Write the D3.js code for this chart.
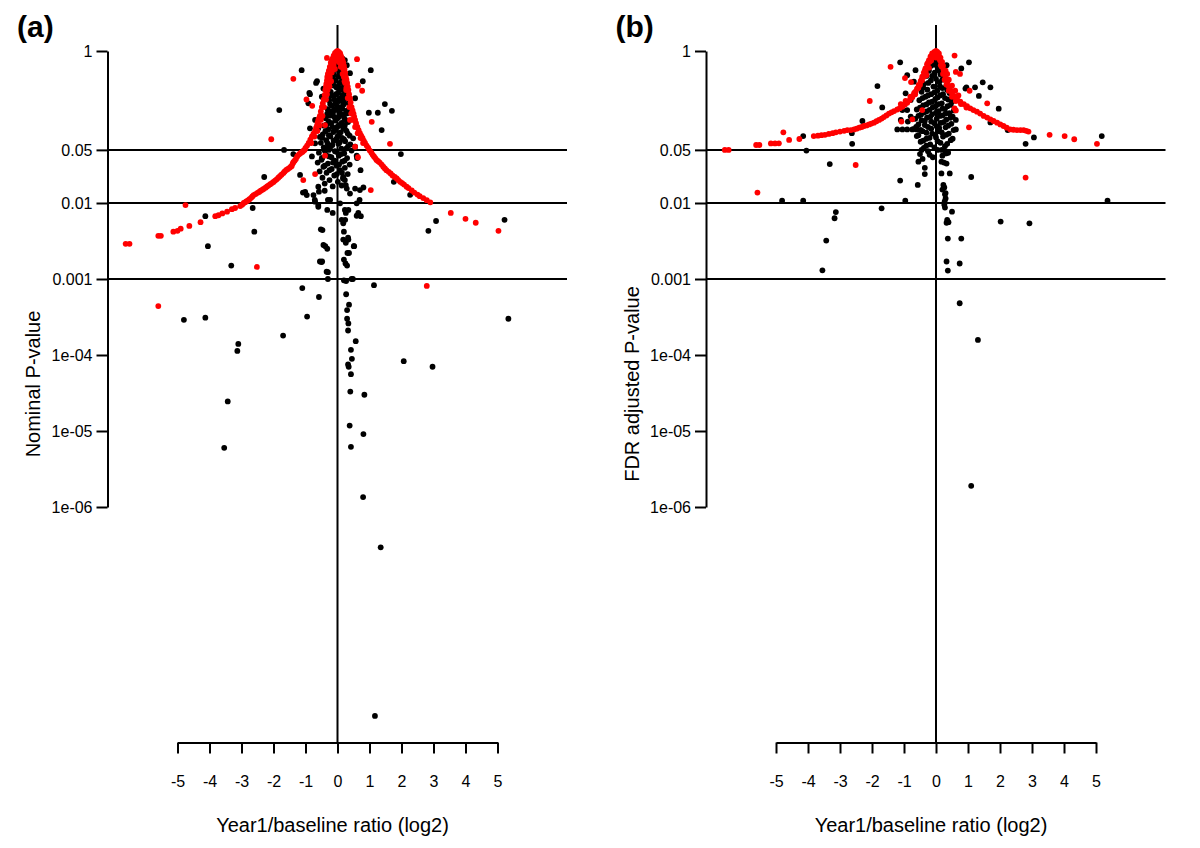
<!DOCTYPE html>
<html><head><meta charset="utf-8">
<script src="https://cdn.jsdelivr.net/npm/d3@7"></script>
<style>
body{margin:0;background:#fff}
svg{display:block}
text{font-family:"Liberation Sans",Arial,Helvetica,sans-serif;fill:#000}
</style>
</head><body>
<svg id="chart" width="1200" height="848"></svg>
<script>
// ---------- data ----------
const xTicks = [-5,-4,-3,-2,-1,0,1,2,3,4,5];
const yTicks = [1,0.05,0.01,0.001,1e-4,1e-5,1e-6];
const yTickLabels = ["1","0.05","0.01","0.001","1e-04","1e-05","1e-06"];
const refLines = [0.05,0.01,0.001];
const panelLabels = ["(a)","(b)"];
const yTitles = ["Nominal P-value","FDR adjusted P-value"];
const xTitle = "Year1/baseline ratio (log2)";

// panel (a): [log2 ratio, nominal P]
const nominalBlack = [
 [-1.12,0.56],[1.04,0.56],[0.79,0.40],[-0.64,0.40],[-0.86,0.27],[-1.82,0.167],[1.48,0.20],[0.98,0.154],[1.26,0.154],[1.70,0.163],
 [1.38,0.091],[1.98,0.044],[-1.67,0.05],[-2.29,0.022],[1.76,0.019],[2.27,0.0128],[-2.65,0.0086],[-4.13,0.0067],[-2.6,0.0042],[-4.05,0.0027],
 [-3.32,0.0015],[3.08,0.0058],[2.84,0.0043],[5.22,0.006],[1.14,0.00083],[-1.1,0.00076],[-0.58,0.00058],
 [-0.5,0.00167],[-0.3,0.00123],[-0.3,0.001],[-0.95,0.00032],[-4.8,0.00029],[-4.13,0.00031],[-1.7,0.00018],[-3.1,0.00014],[-3.13,0.000113],
 [-3.43,2.45e-5],[-3.54,6.0e-6],[5.34,0.0003],[2.07,8.3e-5],[2.97,7.0e-5],
 [0.36,0.0022],[0.2,0.0018],[0.25,0.0016],[0.3,0.0015],[0.48,0.001],[0.27,0.00094],[0.27,0.00063],[0.36,0.00046],[0.3,0.00039],[0.3,0.0003],
 [0.34,0.00026],[0.33,0.00021],[0.57,0.000152],[0.42,0.000117],[0.45,8.9e-5],[0.33,7.5e-5],[0.35,7.0e-5],[0.42,5.6e-5],[0.4,3.3e-5],[0.84,3.0e-5],
 [0.38,1.18e-5],[0.81,9.1e-6],[0.42,6.2e-6],[0.8,1.35e-6],[1.35,2.95e-7],[1.17,1.78e-9],
 [-1.17,0.0234],[-1.08,0.0137],[-0.96,0.0127],[-0.75,0.0127],[-0.7,0.0104],[-0.6,0.0089],[-0.32,0.0081],[-0.15,0.0074],[-0.23,0.011],[-0.58,0.0141],
 [-0.52,0.0045],[-0.44,0.0028],[-0.32,0.0025],[-0.55,0.0017],[-0.34,0.00125],
 [0.18,0.022],[0.23,0.02],[0.13,0.017],[0.29,0.0155],[0.55,0.0155],[0.7,0.0148],[0.39,0.0133],[0.6,0.0099],[0.08,0.0099],[0.23,0.0081],
 [0.34,0.0081],[0.65,0.0074],[0.6,0.0068],[0.13,0.006],[0.18,0.0054],[0.2,0.0042],[0.18,0.0033],[0.34,0.0033],[0.26,0.003],[0.52,0.0027],
 [0.31,0.0022],[0.2,0.00096],[0.44,0.001],
 [-0.67,0.38],[-0.88,0.28],[-0.91,0.205],[-1.38,0.044],[0.49,0.071],[0.55,0.055],[0.6,0.042],[-0.7,0.124],[-0.6,0.096],[-0.86,0.096],
 [-0.55,0.074],[-0.7,0.061],[-0.8,0.041],[-0.49,0.039],[-0.29,0.055],[0.23,0.106],[0.29,0.151],[0.35,0.205],[0.27,0.277],[0.55,0.239],
 [0.39,0.51],[0.29,0.65],[0.23,0.76],[-0.44,0.32],[-0.49,0.25],[0.11,0.69],[0.15,0.8],
 [0.72,0.027],[0.61,0.039],[0.81,0.016],[0.69,0.011],[0.73,0.0067],[-1.01,0.014],[-0.6,0.0164],[-0.4,0.0145],[-0.71,0.011],[-0.3,0.011],
 [-0.6,0.0094],[-0.47,0.0044],[-0.38,0.0027],[-0.48,0.0017],[0.26,0.0074],[0.24,0.006],[0.33,0.0035],[0.51,0.0027],
 // dense core
 [0.03,0.72],[-0.06,0.66],[0.09,0.61],[-0.02,0.57],[0.12,0.52],[-0.11,0.49],[0.04,0.46],[0.17,0.43],[-0.08,0.41],[0.07,0.38],
 [-0.17,0.36],[0.2,0.345],[-0.03,0.33],[0.11,0.31],[-0.21,0.29],[0.02,0.28],[0.16,0.265],[-0.12,0.255],[0.25,0.24],[-0.26,0.225],
 [0.06,0.22],[-0.06,0.205],[0.19,0.198],[-0.18,0.19],[0.1,0.182],[-0.31,0.172],[0.0,0.168],[0.27,0.16],[-0.14,0.155],[0.14,0.147],
 [-0.24,0.141],[0.05,0.136],[-0.37,0.13],[0.22,0.127],[-0.07,0.121],[0.33,0.116],[-0.2,0.112],[0.1,0.108],[-0.42,0.104],[-0.01,0.1],
 [0.18,0.097],[-0.29,0.093],[0.28,0.089],[-0.13,0.086],[0.06,0.083],[-0.46,0.08],[0.38,0.077],[-0.22,0.075],[0.14,0.072],[-0.04,0.069],
 [-0.35,0.067],[0.24,0.065],[-0.52,0.062],[0.03,0.06],[-0.16,0.058],[0.33,0.056],[-0.43,0.054],[0.12,0.052],[-0.27,0.05],[0.44,0.049],
 [-0.08,0.048],[-0.58,0.046],[0.21,0.045],[-0.36,0.043],[0.04,0.042],[-0.19,0.04],[0.3,0.039],[-0.5,0.037],[-0.09,0.036],[0.15,0.035],
 [-0.62,0.034],[-0.3,0.033],[0.38,0.032],[-0.03,0.031],[-0.44,0.03],[0.23,0.029],[-0.18,0.028],[0.08,0.027],[-0.56,0.026],[-0.34,0.025],
 [0.32,0.024],[-0.1,0.023],[-0.47,0.0215],[0.17,0.021],[-0.25,0.02],[0.01,0.019],[-0.4,0.018],[0.26,0.0172],[-0.15,0.0165],
 [-0.01,0.62],[0.06,0.54],[-0.14,0.44],[0.13,0.4],[-0.1,0.35],[0.05,0.33],[0.24,0.3],[-0.05,0.27],[-0.2,0.26],[0.09,0.24],
 [-0.1,0.23],[0.2,0.215],[-0.23,0.2],[-0.02,0.19],[0.15,0.175],[-0.09,0.17],[0.31,0.165],[-0.2,0.16],[0.07,0.153],[-0.32,0.15],
 [0.2,0.14],[-0.1,0.136],[0.0,0.13],[0.28,0.122],[-0.27,0.118],[0.13,0.113],[-0.34,0.108],[0.04,0.104],[-0.16,0.1],[0.23,0.094],
 [-0.06,0.091],[-0.38,0.088],[0.1,0.085],[0.32,0.082],[-0.27,0.078],[0.0,0.075],[-0.48,0.072],[0.2,0.069],[-0.12,0.066],[0.07,0.063],
 [-0.31,0.061],[0.4,0.059],[-0.22,0.055],[0.27,0.052],[-0.4,0.049],[-0.02,0.047],[0.12,0.044],[-0.26,0.041],[-0.48,0.039],[0.22,0.036],
 [-0.14,0.034],[0.05,0.032],[-0.4,0.031],[-0.25,0.027],[0.14,0.025],[-0.02,0.024]
];
const nominalRed = [
 // left branch
 [-6.62,0.0029],[-6.5,0.0029],[-5.6,0.0037],[-5.52,0.0037],[-5.13,0.0042],[-5.0,0.0043],[-4.9,0.0046],[-4.63,0.0050],[-4.28,0.0056],[-3.82,0.0067],
 [-3.72,0.0069],[-3.6,0.0073],[-3.45,0.0077],[-3.3,0.0083],[-3.2,0.0086],[-3.04,0.0091],[-2.98,0.0095],[-2.93,0.0100],[-2.89,0.0102],[-2.85,0.0105],
 [-2.8,0.0108],[-2.75,0.0112],[-2.7,0.0117],[-2.66,0.0122],[-2.62,0.0127],[-2.56,0.0131],[-2.5,0.0136],[-2.45,0.014],[-2.4,0.0145],[-2.35,0.0149],
 [-2.31,0.0153],[-2.25,0.0159],[-2.2,0.0165],[-2.15,0.0171],[-2.1,0.0177],[-2.05,0.0183],[-2.0,0.0189],[-1.95,0.0197],[-1.9,0.0205],[-1.85,0.0215],
 [-1.8,0.0225],[-1.75,0.0236],[-1.69,0.0248],[-1.65,0.026],[-1.6,0.0272],[-1.55,0.028],[-1.5,0.029],[-1.46,0.030],[-1.43,0.0307],[-1.4,0.033],
 [-1.38,0.0345],[-1.34,0.036],[-1.3,0.038],[-1.26,0.041],[-1.22,0.043],[-1.18,0.0445],[-1.14,0.046],[-1.1,0.047],[-1.07,0.0483],[-1.03,0.05],
 [-1.0,0.053],[-0.95,0.057],[-0.9,0.0616],[-0.85,0.068],[-0.8,0.075],[-0.75,0.082],[-0.7,0.0886],[-0.67,0.097],[-0.64,0.105],[-0.62,0.114],
 [-0.6,0.124],[-0.57,0.132],[-0.55,0.14],[-0.52,0.16],[-0.49,0.183],[-0.46,0.205],[-0.43,0.23],[-0.4,0.265],[-0.38,0.307],[-0.36,0.34],
 [-0.35,0.37],[-0.33,0.41],[-0.32,0.455],[-0.3,0.5],[-0.27,0.55],[-0.24,0.62],[-0.21,0.70],[-0.18,0.75],[-0.15,0.8],[-0.12,0.87],
 [-0.08,0.94],[-0.04,0.97],[0,1],
 [-0.82,0.0616],[-0.72,0.075],[-0.63,0.0886],[-0.56,0.105],[-0.52,0.124],[-0.47,0.14],[-0.42,0.183],[-0.36,0.23],[-0.31,0.307],[-0.26,0.37],
 [-0.24,0.455],[-0.2,0.55],[-0.14,0.70],[-0.09,0.8],[-0.03,0.92],
 // right branch
 [0.04,0.97],[0.08,0.94],[0.1,0.88],[0.13,0.82],[0.16,0.76],[0.18,0.70],[0.2,0.64],[0.22,0.58],[0.24,0.52],[0.26,0.455],
 [0.28,0.42],[0.3,0.38],[0.32,0.34],[0.34,0.307],[0.36,0.27],[0.39,0.24],[0.41,0.21],[0.44,0.183],[0.47,0.165],[0.5,0.15],
 [0.52,0.137],[0.55,0.124],[0.58,0.112],[0.62,0.1],[0.66,0.091],[0.7,0.083],[0.74,0.077],[0.78,0.072],[0.82,0.066],[0.86,0.0616],
 [0.91,0.057],[0.96,0.053],[1.01,0.049],[1.06,0.046],[1.1,0.043],[1.14,0.041],[1.18,0.039],[1.22,0.0368],[1.27,0.0355],[1.32,0.034],
 [1.38,0.032],[1.43,0.030],[1.48,0.0285],[1.53,0.027],[1.6,0.0257],[1.66,0.0245],[1.72,0.023],[1.79,0.022],[1.85,0.021],[1.9,0.020],
 [1.96,0.019],[2.02,0.0183],[2.08,0.0175],[2.16,0.0164],[2.22,0.0157],[2.32,0.0146],[2.4,0.0137],[2.5,0.0129],[2.57,0.0123],[2.68,0.0116],
 [2.79,0.0109],[2.9,0.0102],
 [0.07,0.9],[0.11,0.8],[0.14,0.70],[0.18,0.58],[0.2,0.455],[0.24,0.38],[0.27,0.307],[0.32,0.24],[0.37,0.183],[0.43,0.15],
 [0.48,0.124],[0.55,0.1],[0.63,0.083],[0.72,0.0716],[0.8,0.0616],
 // dense top of the red cusp
 [-0.22,0.62],[-0.12,0.66],[-0.02,0.74],[0.07,0.7],[-0.18,0.52],[-0.08,0.58],[0.1,0.62],[-0.28,0.42],[-0.2,0.4],[0.16,0.5],
 [-0.25,0.34],[0.22,0.4],[-0.33,0.27],[0.28,0.33],[-0.05,0.82],[0.03,0.86],
 // outliers
 [-0.33,0.81],[0.61,0.78],[-1.38,0.43],[-0.97,0.23],[-0.79,0.19],[0.64,0.35],[0.77,0.30],[1.07,0.117],[1.64,0.060],[-2.07,0.069],
 [-0.39,0.042],[0.64,0.040],[-1.07,0.020],[-0.70,0.024],[1.04,0.0148],[-4.75,0.0094],[-2.52,0.00144],[2.79,0.00081],[3.54,0.0074],[4.0,0.0062],
 [4.32,0.0055],[5.03,0.0043],[-5.6,0.00044],[-0.39,0.106],[0.39,0.124],[0.55,0.055]
];

// panel (b): [log2 ratio, FDR adjusted P]
const fdrBlack = [
 [-1.12,0.71],[1.03,0.71],[0.79,0.59],[-0.64,0.56],[-1.83,0.346],[1.46,0.387],[0.95,0.333],[1.22,0.333],[1.7,0.333],[1.34,0.256],
 [-1.68,0.181],[1.96,0.174],[-2.3,0.12],[1.7,0.115],[2.24,0.091],[-4.15,0.076],[-2.63,0.083],[-2.62,0.06],[-4.05,0.049],[-3.32,0.0325],
 [2.8,0.06],[3.06,0.073],[5.18,0.076],[1.1,0.022],[-1.12,0.0197],[-0.57,0.0173],[-4.81,0.0107],[-4.15,0.0107],[-0.96,0.0107],[-1.7,0.0085],
 [-3.13,0.0076],[-3.17,0.0063],[5.36,0.0107],[2.02,0.0057],[2.92,0.0054],[-3.43,0.0032],[-3.55,0.0013],[0.5,0.0077],[0.35,0.006],[0.39,0.0056],
 [0.33,0.0055],[0.37,0.0034],[0.79,0.0034],[0.33,0.0017],[0.74,0.0016],[0.37,0.00129],[0.74,0.00048],[1.31,0.000158],[1.1,1.9e-6],
 [0.28,0.013],[0.3,0.0115],[0.27,0.0105],[0.26,0.0095],[0.28,0.0087],[0.23,0.0173],[0.26,0.016],[0.17,0.035],[0.25,0.034],[0.33,0.033],
 [0.33,0.045],[0.17,0.0245],[0.43,0.0245],[0.2,0.015],[0.3,0.0135],[-0.55,0.035],[-0.35,0.029],[-0.35,0.024],[-0.42,0.038],
 [-0.9,0.48],[-0.69,0.395],[-0.95,0.277],[-0.79,0.227],[-1.05,0.167],[-0.9,0.167],[-0.79,0.137],[-1.1,0.124],[-0.88,0.118],[-1.21,0.093],
 [-1.05,0.093],[-0.9,0.093],[-0.74,0.093],[-0.6,0.093],[-0.48,0.091],[0.33,0.65],[0.92,0.32],
 // dense core
 [0.02,0.78],[-0.08,0.72],[0.12,0.69],[-0.15,0.64],[0.05,0.61],[0.2,0.58],[-0.22,0.55],[-0.04,0.52],[0.14,0.49],[-0.3,0.47],
 [0.27,0.45],[0.0,0.43],[-0.16,0.41],[0.1,0.39],[-0.38,0.37],[0.33,0.355],[-0.08,0.34],[0.2,0.325],[-0.27,0.31],[0.04,0.3],
 [-0.45,0.29],[0.42,0.28],[-0.15,0.27],[0.13,0.26],[-0.33,0.25],[0.28,0.24],[-0.02,0.235],[-0.52,0.225],[0.5,0.215],[-0.22,0.21],
 [0.08,0.2],[-0.4,0.193],[0.36,0.188],[-0.1,0.182],[0.2,0.175],[-0.6,0.17],[0.56,0.165],[-0.3,0.16],[0.0,0.155],[0.3,0.15],
 [-0.47,0.145],[0.12,0.14],[-0.18,0.136],[0.45,0.132],[-0.65,0.128],[0.62,0.124],[-0.35,0.12],[0.24,0.116],[-0.05,0.112],[-0.55,0.108],
 [0.38,0.104],[-0.25,0.1],[0.1,0.097],[-0.7,0.094],[0.55,0.091],[-0.42,0.088],[0.18,0.085],[-0.12,0.082],[0.32,0.079],[-0.6,0.076],
 [0.0,0.073],[-0.3,0.07],[0.46,0.067],[-0.48,0.064],[0.14,0.062],[-0.18,0.059],[0.28,0.056],[-0.38,0.053],[0.05,0.05],[-0.25,0.048],
 [0.38,0.046],[-0.5,0.044],[0.2,0.042],[-0.1,0.04],
 [-0.01,0.66],[0.08,0.56],[-0.12,0.47],[0.2,0.42],[-0.24,0.38],[0.12,0.345],[-0.4,0.33],[0.35,0.31],[-0.05,0.285],[0.22,0.27],
 [-0.25,0.26],[0.05,0.245],[-0.42,0.24],[0.38,0.23],[-0.12,0.215],[0.18,0.205],[-0.3,0.198],[0.46,0.195],[0.0,0.19],[-0.5,0.18],
 [0.28,0.172],[-0.2,0.168],[0.08,0.162],[-0.38,0.155],[0.42,0.152],[-0.12,0.147],[0.2,0.142],[-0.55,0.14],[0.52,0.137],[-0.28,0.133],
 [0.02,0.128],[0.32,0.125],[-0.45,0.122],[-0.15,0.118],[0.14,0.113],[0.48,0.11],[-0.35,0.106],[0.02,0.102],[-0.62,0.1],[0.3,0.099],
 [-0.15,0.095],[0.62,0.093],[-0.48,0.091],[0.1,0.088],[-0.3,0.084],[0.4,0.082],[-0.02,0.079],[-0.55,0.078],[0.22,0.075],[-0.2,0.072],
 [0.52,0.07],[-0.4,0.066],[0.05,0.065],[0.35,0.06],[-0.3,0.057],[-0.05,0.054],[0.18,0.05],[-0.45,0.05],[0.3,0.045],[-0.2,0.043]
];
const fdrRed = [
 // left branch
 [-6.6,0.050],[-6.48,0.050],[-5.62,0.058],[-5.52,0.058],[-5.16,0.0608],[-5.03,0.0608],[-4.91,0.061],[-4.59,0.0675],[-4.27,0.0695],[-3.82,0.076],
 [-3.69,0.077],[-3.58,0.078],[-3.47,0.079],[-3.35,0.081],[-3.23,0.083],[-3.13,0.085],[-3.0,0.087],[-2.87,0.089],[-2.77,0.091],[-2.66,0.091],
 [-2.56,0.093],[-2.48,0.095],[-2.4,0.098],[-2.32,0.1],[-2.25,0.103],[-2.17,0.105],[-2.09,0.108],[-2.02,0.111],[-1.94,0.114],[-1.86,0.119],
 [-1.78,0.124],[-1.7,0.129],[-1.63,0.135],[-1.55,0.142],[-1.47,0.15],[-1.39,0.156],[-1.31,0.162],[-1.21,0.17],[-1.13,0.177],[-1.05,0.185],
 [-0.97,0.197],[-0.9,0.209],[-0.82,0.226],[-0.74,0.246],[-0.69,0.268],[-0.64,0.291],[-0.59,0.32],[-0.54,0.357],[-0.48,0.4],[-0.43,0.459],
 [-0.38,0.52],[-0.33,0.59],[-0.28,0.67],[-0.22,0.76],[-0.17,0.85],[-0.12,0.93],[-0.05,0.97],[0,1],
 [-1.1,0.2],[-0.95,0.22],[-0.8,0.25],[-0.68,0.28],[-0.58,0.32],[-0.5,0.36],[-0.44,0.41],[-0.38,0.46],[-0.32,0.53],[-0.26,0.62],
 [-0.2,0.72],[-0.13,0.82],[-0.07,0.9],
 // right branch
 [0.04,0.97],[0.09,0.93],[0.14,0.82],[0.19,0.72],[0.22,0.64],[0.24,0.56],[0.27,0.5],[0.3,0.437],[0.35,0.385],[0.4,0.34],
 [0.45,0.305],[0.5,0.277],[0.58,0.252],[0.66,0.231],[0.76,0.215],[0.87,0.2],[0.97,0.188],[1.07,0.176],[1.17,0.167],[1.28,0.159],
 [1.38,0.15],[1.49,0.14],[1.6,0.133],[1.7,0.126],[1.8,0.12],[1.91,0.114],[2.01,0.108],[2.11,0.103],[2.21,0.098],[2.32,0.093],
 [2.42,0.092],[2.53,0.091],[2.64,0.091],[2.74,0.091],[2.82,0.089],[2.89,0.087],
 [0.08,0.88],[0.13,0.75],[0.18,0.62],[0.22,0.5],[0.27,0.42],[0.33,0.36],[0.4,0.3],[0.5,0.25],[0.62,0.22],[0.78,0.2],[0.95,0.18],
 [3.55,0.079],[4.02,0.076],[4.32,0.069],[5.03,0.06],
 // dense top of the red cusp
 [-0.25,0.7],[-0.15,0.75],[0.0,0.82],[0.12,0.78],[-0.35,0.55],[-0.22,0.6],[0.15,0.65],[0.3,0.55],[-0.45,0.42],[0.4,0.42],
 [-0.55,0.33],[0.5,0.35],[-0.65,0.27],[0.6,0.3],[0.7,0.26],[-0.3,0.48],[0.35,0.5],
 // outliers
 [-4.77,0.085],[-1.42,0.62],[-2.07,0.22],[-0.97,0.44],[-0.78,0.39],[0.58,0.87],[0.62,0.53],[0.75,0.5],[1.05,0.30],[1.6,0.205],
 [1.03,0.099],[-0.74,0.126],[-1.08,0.118],[-0.43,0.167],[0.58,0.176],[0.62,0.165],[-2.51,0.0316],[-5.58,0.0137],[2.8,0.0216]
];

// ---------- drawing ----------
const svg = d3.select("#chart");
const panels = [
  {ox:0,     black:nominalBlack, red:nominalRed, label:panelLabels[0], ytitle:yTitles[0]},
  {ox:598.5, black:fdrBlack,     red:fdrRed,     label:panelLabels[1], ytitle:yTitles[1]}
];
const LW = 2, R = 2.9;

panels.forEach(p => {
  const ox = p.ox;
  const g = svg.append("g");
  const x = d3.scaleLinear().domain([-5,5]).range([177.5+ox, 497.5+ox]);
  const y = d3.scaleLog().domain([1,1e-6]).range([51,507]);
  const axisX = 107.5 + ox, rightX = 567 + ox, baseY = 742.5;

  // reference lines
  g.selectAll("line.ref").data(refLines).join("line")
    .attr("x1", axisX).attr("x2", rightX)
    .attr("y1", d => y(d)).attr("y2", d => y(d))
    .attr("stroke","#000").attr("stroke-width",LW);
  // zero line
  g.append("line").attr("x1",x(0)).attr("x2",x(0)).attr("y1",25).attr("y2",baseY)
    .attr("stroke","#000").attr("stroke-width",LW);

  // y axis
  const ya = g.append("g").attr("transform",`translate(${axisX},0)`)
    .call(d3.axisLeft(y).tickValues(yTicks).tickFormat((d,i)=>yTickLabels[i])
      .tickSize(11).tickSizeOuter(0).tickPadding(4));
  // x axis
  const xa = g.append("g").attr("transform",`translate(0,${baseY})`)
    .call(d3.axisBottom(x).tickValues(xTicks).tickFormat(d=>String(d))
      .tickSize(11).tickSizeOuter(0).tickPadding(22));
  [ya,xa].forEach(a=>{
    a.select(".domain").attr("stroke","#000").attr("stroke-width",LW);
    a.selectAll(".tick line").attr("stroke","#000").attr("stroke-width",LW);
    a.selectAll(".tick text").attr("font-size",16).attr("fill","#000")
      .attr("font-family",'"Liberation Sans",Arial,sans-serif');
  });

  // points
  g.append("g").selectAll("circle").data(p.black).join("circle")
    .attr("cx", d=>x(d[0])).attr("cy", d=>y(d[1])).attr("r",R).attr("fill","#000");
  g.append("g").selectAll("circle").data(p.red).join("circle")
    .attr("cx", d=>x(d[0])).attr("cy", d=>y(d[1])).attr("r",R).attr("fill","#f00");

  // titles
  g.append("text").attr("x",332.5+ox).attr("y",832).attr("text-anchor","middle")
    .attr("font-size",20).text(xTitle);
  g.append("text").attr("transform",`translate(${40+ox},384) rotate(-90)`)
    .attr("text-anchor","middle").attr("font-size",20).text(p.ytitle);
  g.append("text").attr("x",17+ox).attr("y",37).attr("font-size",30)
    .attr("font-weight","bold").text(p.label);
});
</script>
</body></html>
